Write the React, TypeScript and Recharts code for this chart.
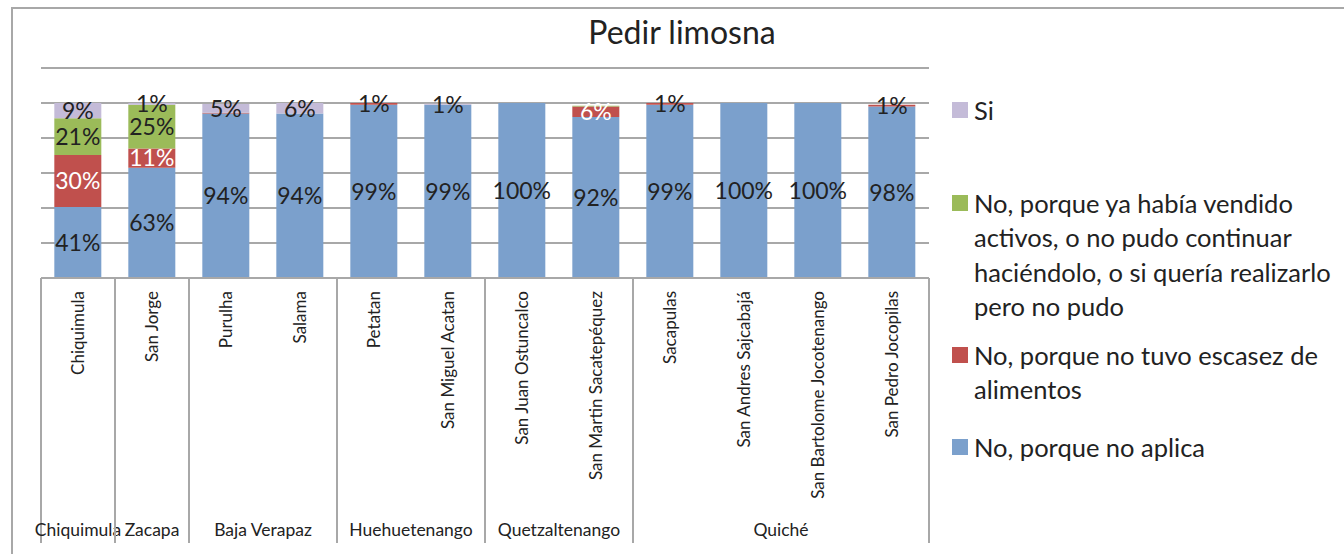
import React from 'react'
import { BarChart, Bar, XAxis, YAxis, CartesianGrid, Legend, LabelList } from 'recharts'

const municipios = [
  'Chiquimula', 'San Jorge', 'Purulha', 'Salama', 'Petatan', 'San Miguel Acatan',
  'San Juan Ostuncalco', 'San Martin Sacatepéquez', 'Sacapulas', 'San Andres Sajcabajá',
  'San Bartolome Jocotenango', 'San Pedro Jocopilas',
]
const departamentos = [
  'Chiquimula', 'Zacapa', 'Baja Verapaz', 'Baja Verapaz', 'Huehuetenango', 'Huehuetenango',
  'Quetzaltenango', 'Quetzaltenango', 'Quiché', 'Quiché', 'Quiché', 'Quiché',
]
// percentages, bottom to top of each stack
const noAplica = [40.6, 63, 94, 94, 99, 99, 100, 92, 99, 100, 100, 98]
const noEscasez = [29.7, 11, 0.45, 0, 1, 0, 0, 6, 1, 0, 0, 1]
const noVendido = [21, 25, 0, 0, 0, 0, 0, 0.45, 0, 0, 0, 0]
const si = [8.7, 1, 5, 6, 0, 0.6, 0, 0, 0, 0, 0, 0]
const yTicks = [0, 20, 40, 60, 80, 100, 120]

const series = [
  { key: 'aplica', name: 'No, porque no aplica', color: '#7ba0cc', light: false },
  { key: 'escasez', name: 'No, porque no tuvo escasez de\nalimentos', color: '#c0504d', light: true },
  { key: 'vendido', name: 'No, porque ya había vendido\nactivos, o no pudo continuar\nhaciéndolo, o si quería realizarlo\npero no pudo', color: '#9bbb59', light: false },
  { key: 'si', name: 'Si', color: '#c4bbd8', light: false },
]

const data = municipios.map((name, i) => ({
  name,
  dep: departamentos[i],
  aplica: noAplica[i],
  escasez: noEscasez[i],
  vendido: noVendido[i],
  si: si[i],
}))

const FONT = 'Lato, "Open Sans", sans-serif'
const GRID = '#a8a8a8'
const TEXT = '#222222'

const makeLabel = (light: boolean) => (props: any) => {
  const { x, y, width, height, value } = props
  const v = Math.round(Number(value))
  if (!v) return null
  const fill = light && v >= 3 ? '#ffffff' : TEXT
  return (
    <text x={x + width / 2} y={y + height / 2} dy="0.36em" textAnchor="middle"
      fill={fill} fontSize={23} fontFamily={FONT}>{v}%</text>
  )
}

const CategoryTick = (props: any) => {
  const { x, y, payload, index } = props
  const half = payload && payload.offset ? payload.offset : 37
  const dep = departamentos[index]
  const first = index === 0 || departamentos[index - 1] !== dep
  const last = index === departamentos.length - 1 || departamentos[index + 1] !== dep
  let count = 0
  for (let j = index; j < departamentos.length && departamentos[j] === dep; j++) count++
  return (
    <g>
      <text x={x} y={y + 13} dy="0.36em" textAnchor="end" transform={`rotate(-90, ${x}, ${y + 13})`}
        fill={TEXT} fontSize={17} fontFamily={FONT}>{payload.value}</text>
      {first && <line x1={x - half} x2={x - half} y1={y} y2={y + 265} stroke={GRID} strokeWidth={2} />}
      {last && <line x1={x + half} x2={x + half} y1={y} y2={y + 265} stroke={GRID} strokeWidth={2} />}
      {first && (
        <text x={x - half + count * half} y={y + 252} dy="0.36em" textAnchor="middle"
          fill={TEXT} fontSize={17.5} fontFamily={FONT}>{dep}</text>
      )}
    </g>
  )
}

const legendGaps = [0, 58, 14, 23]

const renderLegend = () => (
  <div style={{ fontFamily: FONT, fontSize: 25.5, lineHeight: '34.5px', color: TEXT }}>
    {[...series].reverse().map((s, i) => (
      <div key={s.key} style={{ display: 'flex', marginTop: legendGaps[i] }}>
        <div style={{ width: 16, height: 16, background: s.color, marginTop: 9, marginRight: 6, flex: 'none' }} />
        <div style={{ whiteSpace: 'pre' }}>{s.name}</div>
      </div>
    ))}
  </div>
)

export default function App() {
  return (
    <div style={{ position: 'relative', width: 1344, height: 554, overflow: 'hidden', background: '#fff', fontFamily: FONT }}>
      <style>{'body{margin:0}'}</style>
      <div style={{ position: 'absolute', left: 11, top: 7, width: 2000, height: 2000, borderTop: `2px solid ${GRID}`, borderLeft: `2px solid ${GRID}` }} />
      <div style={{ position: 'absolute', left: 482, width: 400, top: 12, textAlign: 'center', fontSize: 32, color: TEXT }}>
        Pedir limosna
      </div>
      <BarChart width={1344} height={554} data={data} barCategoryGap="18%"
        margin={{ top: 68, right: 415, bottom: 0, left: 41 }}>
        <CartesianGrid vertical={false} horizontalValues={yTicks} stroke={GRID} strokeWidth={2} />
        <YAxis domain={[0, 120]} ticks={yTicks} width={0} hide />
        <XAxis dataKey="name" interval={0} height={276} tickLine={false} tickSize={0} tickMargin={0}
          axisLine={{ stroke: GRID, strokeWidth: 2 }} tick={<CategoryTick />} />
        <Legend layout="vertical" align="center" verticalAlign="middle" content={renderLegend}
          wrapperStyle={{ position: 'absolute', left: 952, top: 93, width: 392, height: 'auto' }} />
        {series.map((s) => (
          <Bar key={s.key} dataKey={s.key} name={s.name} stackId="a" fill={s.color} isAnimationActive={false}>
            <LabelList dataKey={s.key} content={makeLabel(s.light)} />
          </Bar>
        ))}
      </BarChart>
    </div>
  )
}
